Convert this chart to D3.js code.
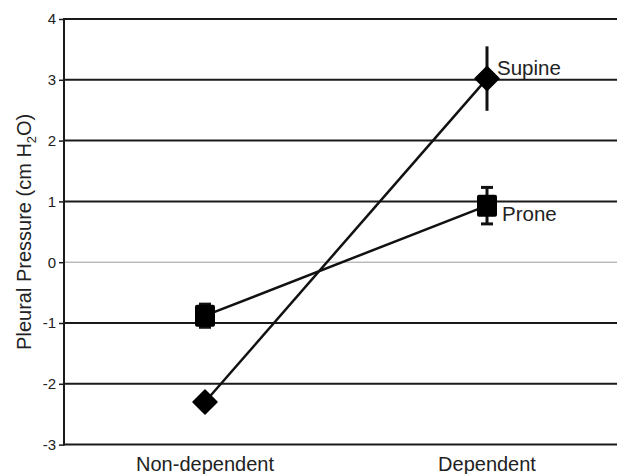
<!DOCTYPE html>
<html><head><meta charset="utf-8">
<script src="https://cdn.jsdelivr.net/npm/d3@7"></script>
<style>body{margin:0;background:#fff;}svg{display:block;font-family:"Liberation Sans",Arial,sans-serif;}</style>
</head><body><svg id="c" width="617" height="474"></svg>
<script>
const categories = ["Non-dependent", "Dependent"];
const yTicks = [-3, -2, -1, 0, 1, 2, 3, 4];
const yTickLabels = ["-3", "-2", "-1", "0", "1", "2", "3", "4"];
const supineValues = [-2.30, 3.02];
const supineErrors = [0.12, 0.53];
const proneValues = [-0.88, 0.93];
const proneErrors = [0.19, 0.30];
const seriesNames = ["Supine", "Prone"];

(function () {
const svg = d3.select("#c");
const mLeft = 64, mRight = 617, mTop = 19, mBottom = 444.6;
const y = d3.scaleLinear().domain([-3, 4]).range([mBottom, mTop]);
const x = d3.scalePoint().domain(categories).range([205, 487]);

// gridlines
svg.append("g").selectAll("line").data(yTicks.filter(t => t !== -3)).join("line")
  .attr("x1", mLeft).attr("x2", mRight)
  .attr("y1", d => y(d)).attr("y2", d => y(d))
  .attr("stroke", d => d === 0 ? "#9a9a9a" : "#1a1a1a")
  .attr("stroke-width", d => d === 0 ? 1 : 2);

// left axis
const yAxis = d3.axisLeft(y).tickValues(yTicks).tickSize(5).tickPadding(3)
  .tickFormat((d, i) => yTickLabels[i]);
const gy = svg.append("g").attr("transform", `translate(${mLeft},0)`).call(yAxis);
gy.select(".domain").remove();
gy.selectAll(".tick line").attr("stroke", "#1a1a1a").attr("stroke-width", 1.5);
gy.selectAll(".tick text").attr("font-size", 15).attr("fill", "#222")
  .attr("font-family", "Liberation Sans, Arial, sans-serif");
svg.append("line").attr("x1", mLeft).attr("x2", mLeft).attr("y1", y(4) - 1).attr("y2", y(-3) + 1)
  .attr("stroke", "#1a1a1a").attr("stroke-width", 2);
svg.append("line").attr("x1", mLeft).attr("x2", mRight).attr("y1", y(-3)).attr("y2", y(-3))
  .attr("stroke", "#1a1a1a").attr("stroke-width", 2);

// x labels
svg.append("g").selectAll("text").data(categories).join("text")
  .attr("x", d => x(d)).attr("y", 471).attr("text-anchor", "middle")
  .attr("font-size", 20).attr("fill", "#222").text(d => d);

// y title
const yt = svg.append("text").attr("transform", `translate(31,${(mTop+mBottom)/2}) rotate(-90)`)
  .attr("text-anchor", "middle").attr("font-size", 20).attr("fill", "#222");
yt.append("tspan").text("Pleural Pressure (cm H");
yt.append("tspan").attr("font-size", 13).attr("dy", 5).text("2");
yt.append("tspan").attr("dy", -5).text("O)");

const line = d3.line().x((d, i) => x(categories[i])).y(d => y(d));

function drawSeries(vals, errs, shape) {
  svg.append("path").datum(vals).attr("d", line).attr("fill", "none")
    .attr("stroke", "#111").attr("stroke-width", 2.5);
  const g = svg.append("g");
  vals.forEach((v, i) => {
    const cx = x(categories[i]);
    g.append("line").attr("x1", cx).attr("x2", cx).attr("y1", y(v + errs[i])).attr("y2", y(v - errs[i]))
      .attr("stroke", "#111").attr("stroke-width", 3);
    if (shape === "square") {
      [v + errs[i], v - errs[i]].forEach(e => g.append("line").attr("x1", cx - 6).attr("x2", cx + 6)
        .attr("y1", y(e)).attr("y2", y(e)).attr("stroke", "#111").attr("stroke-width", 3));
      g.append("rect").attr("x", cx - 10).attr("y", y(v) - 11).attr("width", 20).attr("height", 22)
        .attr("rx", 2).attr("fill", "#000");
    } else {
      const s = 12;
      g.append("path").attr("d", `M${cx},${y(v)-s}L${cx+s},${y(v)}L${cx},${y(v)+s}L${cx-s},${y(v)}Z`)
        .attr("fill", "#000").attr("stroke", "#000").attr("stroke-linejoin", "round").attr("stroke-width", 1.5);
    }
  });
}
drawSeries(supineValues, supineErrors, "diamond");
drawSeries(proneValues, proneErrors, "square");

svg.append("text").attr("x", 497).attr("y", y(supineValues[1]) - 4).attr("font-size", 20.5).attr("fill", "#222").text(seriesNames[0]);
svg.append("text").attr("x", 502).attr("y", y(proneValues[1]) + 15).attr("font-size", 20.5).attr("fill", "#222").text(seriesNames[1]);
})();
</script></body></html>
